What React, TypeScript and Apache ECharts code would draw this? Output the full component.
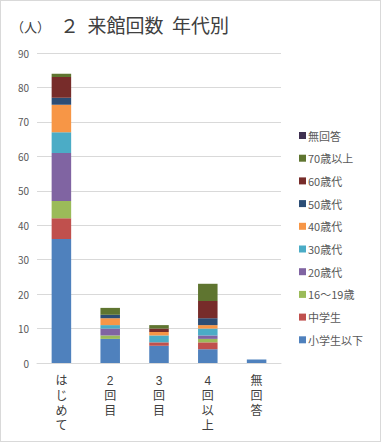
import React, { useEffect, useRef } from "react";
import * as echarts from "echarts";

const categories = ["はじめて", "2回目", "3回目", "4回以上", "無回答"];
const seriesNames = ["小学生以下", "中学生", "16～19歳", "20歳代", "30歳代", "40歳代", "50歳代", "60歳代", "70歳以上", "無回答"];
const colors = ["#4F81BD", "#C0504D", "#9BBB59", "#8064A2", "#4BACC6", "#F79646", "#2C4D75", "#772C2A", "#5F7530", "#3F3151"];
const elementary = [36, 7, 5, 4, 1];
const juniorHigh = [6, 0, 1, 2, 0];
const teens = [5, 1, 0, 1, 0];
const twenties = [14, 2, 0, 1, 0];
const thirties = [6, 1, 2, 2, 0];
const forties = [8, 2, 1, 1, 0];
const fifties = [2, 1, 0, 2, 0];
const sixties = [6, 0, 1, 5, 0];
const seventiesPlus = [1, 2, 1, 5, 0];
const noAnswer = [0, 0, 0, 0, 0];
const values = [elementary, juniorHigh, teens, twenties, thirties, forties, fifties, sixties, seventiesPlus, noAnswer];
const yTicks = [0, 10, 20, 30, 40, 50, 60, 70, 80, 90];

const font = "'Noto Sans CJK JP', 'Noto Sans', sans-serif";
const labelFont = "'Liberation Sans', 'Noto Sans CJK JP', sans-serif";

export default function App() {
  const ref = useRef<HTMLDivElement>(null);
  useEffect(() => {
    if (!ref.current) return;
    const chart = echarts.init(ref.current, undefined, { renderer: "svg" });
    chart.setOption({
      animation: false,
      backgroundColor: "#ffffff",
      title: {
        text: "２  来館回数  年代別",
        left: 54,
        top: 9,
        textStyle: { fontFamily: font, fontSize: 19, fontWeight: "normal", color: "#404040" },
      },
      graphic: [
        {
          type: "text",
          left: 10,
          top: 19,
          style: { text: "（人）", font: `13px ${font}`, fill: "#404040" },
        },
      ],
      legend: {
        orient: "vertical",
        left: 293,
        top: 124,
        itemWidth: 7,
        itemHeight: 7,
        itemGap: 11.7,
        icon: "rect",
        data: [...seriesNames].reverse(),
        textStyle: { fontFamily: font, fontSize: 11, color: "#595959", padding: [0, 0, 0, -3] },
      },
      grid: { left: 36, right: 99, top: 52, bottom: 78, containLabel: false },
      xAxis: {
        type: "category",
        data: categories,
        axisLine: { lineStyle: { color: "#D9D9D9" } },
        axisTick: { show: false },
        axisLabel: {
          interval: 0,
          fontFamily: labelFont,
          fontSize: 12,
          color: "#404040",
          lineHeight: 15,
          margin: 10,
          formatter: (v: string) => v.split("").join("\n"),
        },
      },
      yAxis: {
        type: "value",
        min: 0,
        max: 90,
        interval: 10,
        axisLine: { show: false },
        axisTick: { show: false },
        splitLine: { lineStyle: { color: "#D9D9D9" } },
        axisLabel: {
          fontFamily: font,
          fontSize: 10,
          color: "#595959",
          margin: 8,
          formatter: (v: number) => (yTicks.includes(v) ? String(v) : ""),
        },
      },
      series: seriesNames.map((name, i) => ({
        name,
        type: "bar",
        stack: "total",
        barWidth: "40%",
        itemStyle: { color: colors[i] },
        data: values[i],
      })),
    });
    return () => chart.dispose();
  }, []);
  return (
    <div
      ref={ref}
      style={{
        position: "fixed",
        left: 0,
        top: 0,
        width: 381,
        height: 442,
        boxSizing: "border-box",
        border: "1px solid #D9D9D9",
      }}
    />
  );
}
